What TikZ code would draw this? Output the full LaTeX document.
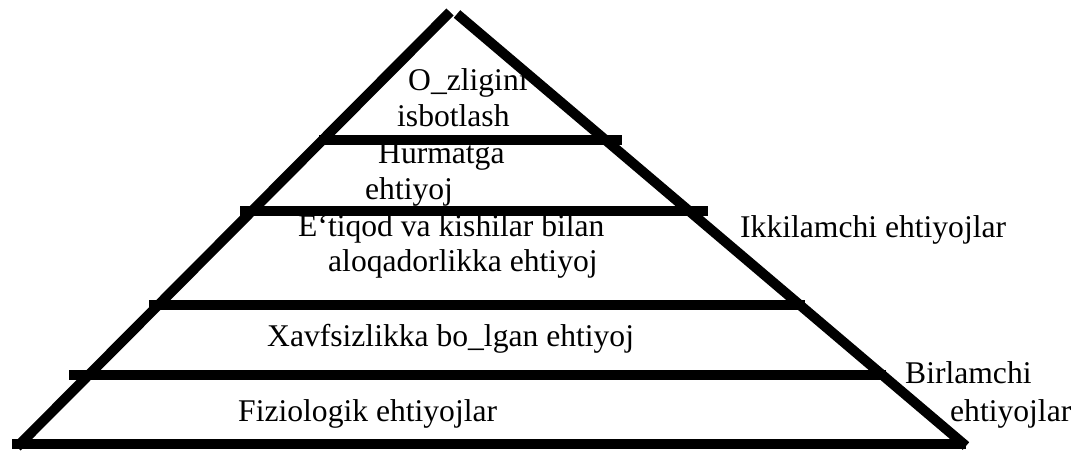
\documentclass[tikz,border=0pt]{standalone}
\usepackage{fontspec}
\setmainfont{Liberation Serif}
\begin{document}
\begin{tikzpicture}[x=1pt,y=-1pt,
  edge/.style={line width=10pt,line cap=butt},
  lbl/.style={inner sep=0pt,anchor=base west,font=\fontsize{31.6}{36}\selectfont}]
\useasboundingbox (0,0) rectangle (1080,454);
% sides of the pyramid
\coordinate (apexL) at (450,12);
\coordinate (apexR) at (457,14);
\coordinate (footL) at (17,447);
\coordinate (footR) at (966,446);
\draw[edge] (footL) -- (apexL);
\draw[edge] (apexR) -- (footR);
% horizontal tiers
\coordinate (t1a) at (319,140); \coordinate (t1b) at (622,140);
\coordinate (t2a) at (240,211); \coordinate (t2b) at (708,211);
\coordinate (t3a) at (149,305); \coordinate (t3b) at (805,305);
\coordinate (t4a) at (69,375);  \coordinate (t4b) at (886,375);
\coordinate (t5a) at (12,444);  \coordinate (t5b) at (966,444);
\draw[edge] (t1a) -- (t1b);
\draw[edge] (t2a) -- (t2b);
\draw[edge] (t3a) -- (t3b);
\draw[edge] (t4a) -- (t4b);
\draw[edge] (t5a) -- (t5b);
% tier labels
\node[lbl] (l1a) at (408,91)  {O\_zligini};
\node[lbl] (l1b) at (397,127) {isbotlash};
\node[lbl] (l2a) at (378,164) {Hurmatga};
\node[lbl] (l2b) at (365,200) {ehtiyoj};
\node[lbl] (l3a) at (298,237) {E‘tiqod va kishilar bilan};
\node[lbl] (l3b) at (328,272) {aloqadorlikka ehtiyoj};
\node[lbl] (l4)  at (267,347) {Xavfsizlikka bo\_lgan ehtiyoj};
\node[lbl] (l5)  at (238,422) {Fiziologik ehtiyojlar};
% group labels on the right
\node[lbl] (sec)  at (740,238) {Ikkilamchi ehtiyojlar};
\node[lbl] (pri1) at (905,384) {Birlamchi};
\node[lbl] (pri2) at (950,422) {ehtiyojlar};
\end{tikzpicture}
\end{document}
